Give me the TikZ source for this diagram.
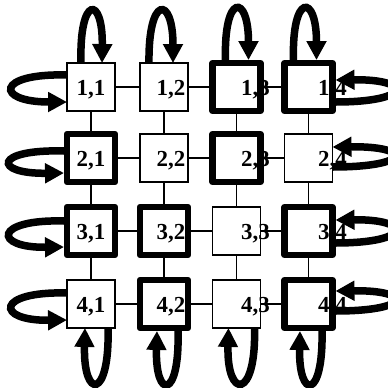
\documentclass[tikz,border=0pt]{standalone}
\usepackage{fontspec}
\setmainfont{Liberation Serif}
\usetikzlibrary{arrows.meta,calc}

\tikzset{
  cellfill/.style={rectangle, minimum size=47.5bp, inner sep=0pt, fill=white},
  thinframe/.style={draw=black, line width=1.5bp},
  thickframe/.style={draw=black, line width=6.5bp, line join=round},
  link/.style={draw=black, line width=1.5bp},
  celltext/.style={anchor=base, inner sep=0pt, font=\fontsize{23}{23}\selectfont\bfseries},
  selfloop/.style={draw=black, line width=7.5bp, -{Triangle[length=19bp,width=19bp]}},
}

\begin{document}
\begin{tikzpicture}[x=1bp,y=-1bp]
\useasboundingbox (0,0) rectangle (388,388);

% cells of the 4x4 grid (fill only; frames come after the labels)
\node[cellfill] (b11) at (91,87) {};
\node[cellfill] (b12) at (164,87) {};
\node[cellfill] (b13) at (236.5,87) {};
\node[cellfill] (b14) at (308.5,87) {};
\node[cellfill] (b21) at (91,158) {};
\node[cellfill] (b22) at (164,158) {};
\node[cellfill] (b23) at (236.5,158) {};
\node[cellfill] (b24) at (308.5,158) {};
\node[cellfill] (b31) at (91,231) {};
\node[cellfill] (b32) at (164,231) {};
\node[cellfill] (b33) at (236.5,231) {};
\node[cellfill] (b34) at (308.5,231) {};
\node[cellfill] (b41) at (91,304) {};
\node[cellfill] (b42) at (164,304) {};
\node[cellfill] (b43) at (236.5,304) {};
\node[cellfill] (b44) at (308.5,304) {};

% horizontal links
\foreach \r in {1,2,3,4}{
  \draw[link] (b\r1.east) -- (b\r2.west);
  \draw[link] (b\r2.east) -- (b\r3.west);
  \draw[link] (b\r3.east) -- (b\r4.west);
}
% vertical links
\foreach \c in {1,2,3,4}{
  \draw[link] (b1\c.south) -- (b2\c.north);
  \draw[link] (b2\c.south) -- (b3\c.north);
  \draw[link] (b3\c.south) -- (b4\c.north);
}

% labels
\foreach \r/\y in {1/87,2/158,3/231,4/304}{
  \node[celltext] (l\r1) at (91,\y+8.5) {\r,1};
  \node[celltext] (l\r2) at (171,\y+8.5) {\r,2};
  \node[celltext] (l\r3) at (255.5,\y+8.5) {\r,3};
  \node[celltext] (l\r4) at (332.5,\y+8.5) {\r,4};
}

% frames
\foreach \b in {11,12,22,24,33,41,43}{
  \draw[thinframe] (b\b.south west) rectangle (b\b.north east);
}
\foreach \b in {13,14,21,23,31,32,34,42,44}{
  \draw[thickframe] (b\b.south west) rectangle (b\b.north east);
}

% self loops above the first row
\draw[selfloop] ($(b11.north)+(-10,0)$) .. controls ($(b11.north)+(-12,-68)$) and ($(b11.north)+(12,-68)$) .. ($(b11.north)+(11,0)$);
\draw[selfloop] ($(b12.north)+(-15,0)$) .. controls ($(b12.north)+(-16,-68)$) and ($(b12.north)+(9,-68)$) .. ($(b12.north)+(9,0)$);
\draw[selfloop] ($(b13.north)+(-11,-3)$) .. controls ($(b13.north)+(-13,-70)$) and ($(b13.north)+(12,-70)$) .. ($(b13.north)+(12,-3)$);
\draw[selfloop] ($(b14.north)+(-15,-3)$) .. controls ($(b14.north)+(-17,-70)$) and ($(b14.north)+(8,-70)$) .. ($(b14.north)+(8,-3)$);

% self loops left of the first column
\draw[selfloop] ($(b11.west)+(0,-12)$) .. controls ($(b11.west)+(-72,-14)$) and ($(b11.west)+(-72,15)$) .. ($(b11.west)+(0,15)$);
\draw[selfloop] ($(b21.west)+(-3,-7)$) .. controls ($(b21.west)+(-74,-9)$) and ($(b21.west)+(-74,16)$) .. ($(b21.west)+(-3,15)$);
\draw[selfloop] ($(b31.west)+(-3,-10)$) .. controls ($(b31.west)+(-74,-12)$) and ($(b31.west)+(-74,17)$) .. ($(b31.west)+(-3,16)$);
\draw[selfloop] ($(b41.west)+(0,-11)$) .. controls ($(b41.west)+(-72,-13)$) and ($(b41.west)+(-72,17)$) .. ($(b41.west)+(0,16)$);

% self loops right of the last column
\draw[selfloop] ($(b14.east)+(3,15)$) .. controls ($(b14.east)+(80,15)$) and ($(b14.east)+(80,-8)$) .. ($(b14.east)+(3,-7)$);
\draw[selfloop] ($(b24.east)+(0,9)$) .. controls ($(b24.east)+(80,9)$) and ($(b24.east)+(80,-12)$) .. ($(b24.east)+(0,-11)$);
\draw[selfloop] ($(b34.east)+(3,12)$) .. controls ($(b34.east)+(80,12)$) and ($(b34.east)+(80,-12)$) .. ($(b34.east)+(3,-11)$);
\draw[selfloop] ($(b44.east)+(3,7)$) .. controls ($(b44.east)+(80,7)$) and ($(b44.east)+(80,-14)$) .. ($(b44.east)+(3,-13)$);

% self loops below the last row
\draw[selfloop] ($(b41.south)+(17,0)$) .. controls ($(b41.south)+(19,72)$) and ($(b41.south)+(-8,72)$) .. ($(b41.south)+(-6,0)$);
\draw[selfloop] ($(b42.south)+(14,3)$) .. controls ($(b42.south)+(16,72)$) and ($(b42.south)+(-9,72)$) .. ($(b42.south)+(-7,3)$);
\draw[selfloop] ($(b43.south)+(18,0)$) .. controls ($(b43.south)+(20,72)$) and ($(b43.south)+(-10,72)$) .. ($(b43.south)+(-8,0)$);
\draw[selfloop] ($(b44.south)+(13.5,3)$) .. controls ($(b44.south)+(15,72)$) and ($(b44.south)+(-10,72)$) .. ($(b44.south)+(-8.5,3)$);
\end{tikzpicture}
\end{document}
